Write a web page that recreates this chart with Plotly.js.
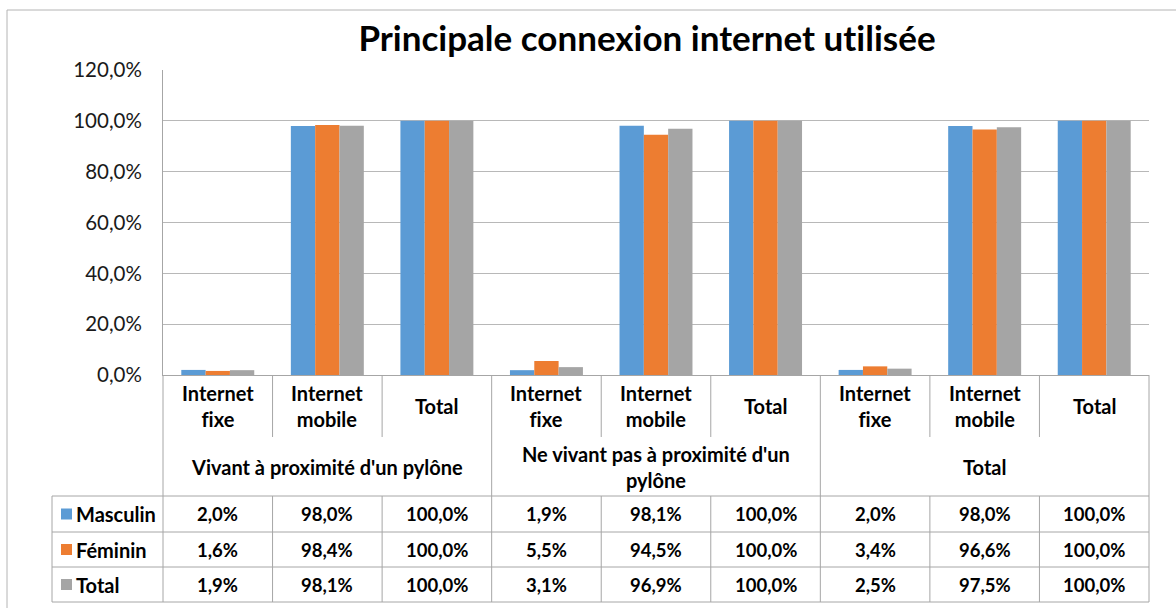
<!DOCTYPE html>
<html>
<head>
<meta charset="utf-8">
<script src="https://cdn.plot.ly/plotly-3.0.1.min.js"></script>
<style>
  html, body { margin: 0; padding: 0; background: #ffffff; }
  #chart { width: 1176px; height: 608px; }
  svg text { font-variant-ligatures: none; font-feature-settings: "liga" 0, "clig" 0; }
</style>
</head>
<body>
<div id="chart"></div>
<script>
// ---- Data ----
const titleText = "Principale connexion internet utilisée";
const subCategories = ["Internet<br>fixe", "Internet<br>mobile", "Total"];
const groups = ["Vivant à proximité d'un pylône", "Ne vivant pas à proximité d'un<br>pylône", "Total"];
const seriesNames = ["Masculin", "Féminin", "Total"];
const masculin = [2.0, 98.0, 100.0, 1.9, 98.1, 100.0, 2.0, 98.0, 100.0];
const feminin  = [1.6, 98.4, 100.0, 5.5, 94.5, 100.0, 3.4, 96.6, 100.0];
const total    = [1.9, 98.1, 100.0, 3.1, 96.9, 100.0, 2.5, 97.5, 100.0];
const colors = ["#5B9BD5", "#ED7D31", "#A5A5A5"];
const yTicks = [0, 0.2, 0.4, 0.6, 0.8, 1.0, 1.2];

// ---- Geometry (pixels of the 1176x608 page) ----
const W = 1176, H = 608;
const PL = 163, PR = 1149, PT = 70, PB = 375;
const pw = PR - PL, ph = PB - PT;
const px = x => (x - PL) / pw;          // pixel -> paper x
const py = y => (PB - y) / ph;          // pixel -> paper y
const nCat = masculin.length;
const colX = i => (i + 1) / nCat;       // paper x of boundary after category i (i=-1 .. nCat-1)

const rowCatBottom = 437, rowGroupBottom = 496;
const rowLines = [496, 532, 567, 602];
const legendLeft = 52;
const lineColor = "#a6a6a6";
const FONT = "Lato, 'Open Sans', sans-serif";
const LABEL_SIZE = 20, VALUE_SIZE = 18.5;

const allSeries = [masculin, feminin, total];
const xs = masculin.map((_, i) => i);

const traces = allSeries.map((vals, k) => ({
  type: "bar",
  name: seriesNames[k],
  x: xs,
  y: vals.map(v => v / 100),
  marker: { color: colors[k], line: { width: 0 } },
  hoverinfo: "skip"
}));

const shapes = [];
const annotations = [];
const line = (x0, y0, x1, y1, color) => shapes.push({
  type: "line", xref: "paper", yref: "paper",
  x0: x0, y0: y0, x1: x1, y1: y1,
  line: { color: color || lineColor, width: 1 }, layer: "above"
});

// outer chart border (left and top edges visible; right/bottom run off the page)
line(px(7), py(10), px(W + 20), py(10), "#b4b4b4");
line(px(7), py(10), px(7), py(H + 20), "#b4b4b4");

// vertical lines of the data table
for (let i = -1; i < nCat; i++) {
  const x = colX(i);
  const isOuter = (i === -1 || i === nCat - 1);
  const isGroup = ((i + 1) % subCategories.length === 0);
  if (isOuter || isGroup) {
    line(x, py(PB), x, py(602));
  } else {
    line(x, py(PB), x, py(rowCatBottom));
    line(x, py(rowGroupBottom), x, py(602));
  }
}
// legend column left
line(px(legendLeft), py(rowLines[0]), px(legendLeft), py(rowLines[rowLines.length - 1]));
// horizontal lines
rowLines.forEach(y => line(px(legendLeft), py(y), 1, py(y)));

// category labels
for (let i = 0; i < nCat; i++) {
  annotations.push({
    xref: "x", yref: "paper", x: i, y: py(406),
    text: subCategories[i % subCategories.length],
    showarrow: false, xanchor: "center", yanchor: "middle",
    font: { family: FONT, size: LABEL_SIZE, color: "#000", weight: 700 }
  });
}
// group labels
groups.forEach((g, j) => {
  annotations.push({
    xref: "x", yref: "paper", x: j * subCategories.length + 1, y: py(467),
    text: g, showarrow: false, xanchor: "center", yanchor: "middle",
    font: { family: FONT, size: LABEL_SIZE, color: "#000", weight: 700 }
  });
});
// value rows + legend keys
const fmt = v => v.toFixed(1).replace(".", ",") + "%";
allSeries.forEach((vals, k) => {
  const yTop = rowLines[k], yBot = rowLines[k + 1];
  const yc = (yTop + yBot) / 2;
  vals.forEach((v, i) => {
    annotations.push({
      xref: "x", yref: "paper", x: i, y: py(yc),
      text: fmt(v), showarrow: false, xanchor: "center", yanchor: "middle",
      font: { family: FONT, size: VALUE_SIZE, color: "#000", weight: 700 }
    });
  });
  shapes.push({ type: "rect", xref: "paper", yref: "paper",
    x0: px(61), x1: px(72), y0: py(yc - 5.5), y1: py(yc + 5.5),
    fillcolor: colors[k], line: { width: 0 } });
  annotations.push({
    xref: "paper", yref: "paper", x: px(74), y: py(yc),
    text: seriesNames[k], showarrow: false, xanchor: "left", yanchor: "middle",
    font: { family: FONT, size: LABEL_SIZE, color: "#000", weight: 700 }
  });
});

const layout = {
  width: W, height: H,
  margin: { l: PL, r: W - PR, t: PT, b: H - PB, pad: 0 },
  paper_bgcolor: "#ffffff", plot_bgcolor: "#ffffff",
  separators: ", ",
  showlegend: false,
  barmode: "group", bargap: 0.334, bargroupgap: 0,
  title: {
    text: titleText, x: 647 / W, xanchor: "center", y: 1 - 39 / H, yanchor: "middle",
    font: { family: FONT, size: 35, color: "#000", weight: 700 }
  },
  xaxis: {
    range: [-0.5, nCat - 0.5], showticklabels: false, showgrid: false,
    zeroline: false, showline: true, linecolor: lineColor, linewidth: 1, ticks: "", fixedrange: true
  },
  yaxis: {
    range: [0, 1.2], tickvals: yTicks, tickformat: ".1%",
    showgrid: true, gridcolor: "#b8b8b8", gridwidth: 1,
    zeroline: false, showline: true, linecolor: lineColor, linewidth: 1,
    ticks: "", ticklabelstandoff: 16,
    tickfont: { family: FONT, size: 20.5, color: "#1a1a1a" }, fixedrange: true
  },
  shapes: shapes,
  annotations: annotations
};

Plotly.newPlot("chart", traces, layout, { displayModeBar: false, staticPlot: true });
</script>
</body>
</html>
